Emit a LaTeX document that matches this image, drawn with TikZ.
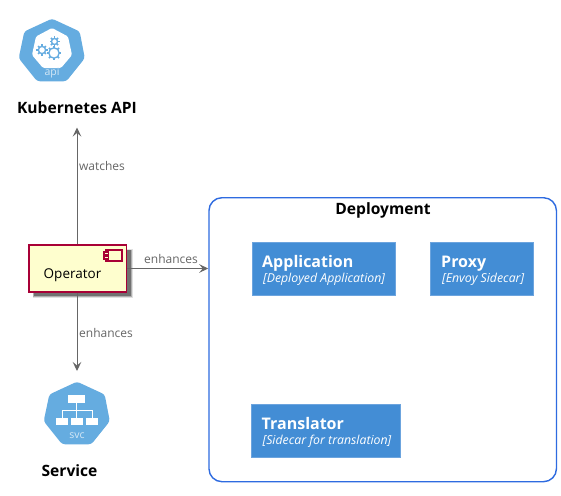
\documentclass[tikz,border=0pt]{standalone}
\usepackage{fontspec}
\setmainfont{Open Sans}
\usetikzlibrary{arrows.meta,calc}
\definecolor{kube}{HTML}{65ACE0}
\definecolor{kubetxt}{HTML}{D5E8F6}
\definecolor{opfill}{HTML}{FEFECE}
\definecolor{opline}{HTML}{A80036}
\definecolor{conn}{HTML}{666666}
\definecolor{boundary}{HTML}{2E6BE0}
\definecolor{cfill}{HTML}{438DD5}
\definecolor{cline}{HTML}{6CA4DE}
\tikzset{
  x=1pt,y=-1pt,
  heptagon/.style={fill=kube,draw=kube,line width=1.5pt,line join=round,rounded corners=2.5pt},
  biglabel/.style={font=\fontsize{15.6}{17}\selectfont\bfseries,inner sep=0pt,text=black,anchor=base},
  connlabel/.style={font=\fontsize{12}{13}\selectfont,text=conn,inner sep=0pt,anchor=base},
  conn line/.style={draw=conn,line width=1pt,-{Stealth[length=9pt,width=8.5pt,inset=3.5pt]}},
  container/.style={rectangle,draw=cline,fill=cfill,line width=.8pt,anchor=north west,minimum height=53pt,inner sep=0pt},
  ctitle/.style={font=\fontsize{16}{18}\selectfont\bfseries,text=white,inner sep=0pt,anchor=base west},
  csub/.style={font=\fontsize{12.3}{13}\selectfont\itshape,text=white,inner sep=0pt,anchor=base west},
  iconsmall/.style={font=\fontsize{10.5}{11}\selectfont,text=kubetxt,inner sep=0pt},
  gearline/.style={draw=kube,line width=1.3pt},
}
\newcommand{\gearicon}[3]{%
  \draw[gearline] (#1,#2) circle[radius=#3];
  \foreach \a in {0,45,...,315}{
    \draw[draw=kube,line width=1.5pt] ($(#1,#2)+(\a:#3)$) -- ($(#1,#2)+(\a:#3+2)$);
  }
}
\begin{document}
\begin{tikzpicture}
\useasboundingbox (0,0) rectangle (561,495);
\fill[white] (0,0) rectangle (561,495);
% API icon
\draw[heptagon] (52,19.5) -- (79,32) -- (84,58) -- (66,80.5) -- (37.5,80.5) -- (19.5,58) -- (25,32) -- cycle;
\fill[white,rounded corners=1.5pt] (52,28) -- (68,36.5) -- (72,55) -- (61,68) -- (43,68) -- (32,55) -- (36,36.5) -- cycle;
\gearicon{54}{53}{5.2}
\gearicon{42}{50}{3.6}
\gearicon{54.5}{41.5}{3}
\node[iconsmall] (apitext) at (52,73) {api};
\node[biglabel] (api) at (77,113) {Kubernetes API};
% Service icon
\draw[heptagon] (77,382.5) -- (104,395) -- (109,421) -- (91,443.5) -- (62.5,443.5) -- (44.5,421) -- (50,395) -- cycle;
\fill[white] (68,395) rectangle (85,403);
\fill[white] (56,418) rectangle (68,425);
\fill[white] (71,418) rectangle (83,425);
\fill[white] (86,418) rectangle (98,425);
\draw[white,line width=1pt] (76.5,403) -- (76.5,418) (62,418) -- (62,410) -- (92,410) -- (92,418);
\node[iconsmall] (svctext) at (77,435.5) {svc};
\node[biglabel] (svc) at (69.5,476.5) {Service};
\coordinate (apiend) at (77,127.5);
\coordinate (svcend) at (77,371);
% Operator
\fill[black,opacity=.12] (32.5,249) rectangle (133,298);
\fill[black,opacity=.22] (33,249.5) rectangle (132,297);
\fill[black,opacity=.35] (34,250) rectangle (131,296);
\node[rectangle,draw=opline,fill=opfill,line width=1.6pt,minimum width=97.5pt,minimum height=46.5pt,inner sep=0pt] (op) at (77.75,268.5) {};
\node[font=\fontsize{13.5}{16}\selectfont,inner sep=0pt,anchor=base] (optext) at (72.5,278) {Operator};
\draw[opline,line width=1.1pt,fill=opfill] (106,250) rectangle (122,261);
\draw[opline,line width=1.1pt,fill=opfill] (104,252) rectangle (108.5,255);
\draw[opline,line width=1.1pt,fill=opfill] (104,256) rectangle (108.5,259);
% Boundary
\node[rectangle,draw=boundary,line width=1.4pt,rounded corners=13pt,minimum width=347.5pt,minimum height=284pt,inner sep=0pt,anchor=north west] (dep) at (208.25,197) {};
\node[biglabel] (deptitle) at (383,214.5) {Deployment};
\node[container,minimum width=143.5pt] (app) at (251.75,242) {};
\node[container,minimum width=102.5pt] (proxy) at (430,242) {};
\node[container,minimum width=148.5pt] (tr) at (251,404) {};
\node[ctitle] (t1) at (262,267) {Application};
\node[csub] (s1) at (263,282) {[Deployed Application]};
\node[ctitle] (t2) at (441,267) {Proxy};
\node[csub] (s2) at (442,282) {[Envoy Sidecar]};
\node[ctitle] (t3) at (261.5,429) {Translator};
\node[csub] (s3) at (262.5,444) {[Sidecar for translation]};
% Connectors
\draw[conn line] (op.north -| apiend) -- (apiend);
\draw[conn line] (op.south -| svcend) -- (svcend);
\draw[conn line] (op.east) -- (dep.west |- op.east);
\node[connlabel] (l1) at (102,170) {watches};
\node[connlabel] (l2) at (171,263) {enhances};
\node[connlabel] (l3) at (106,337) {enhances};
\end{tikzpicture}
\end{document}
